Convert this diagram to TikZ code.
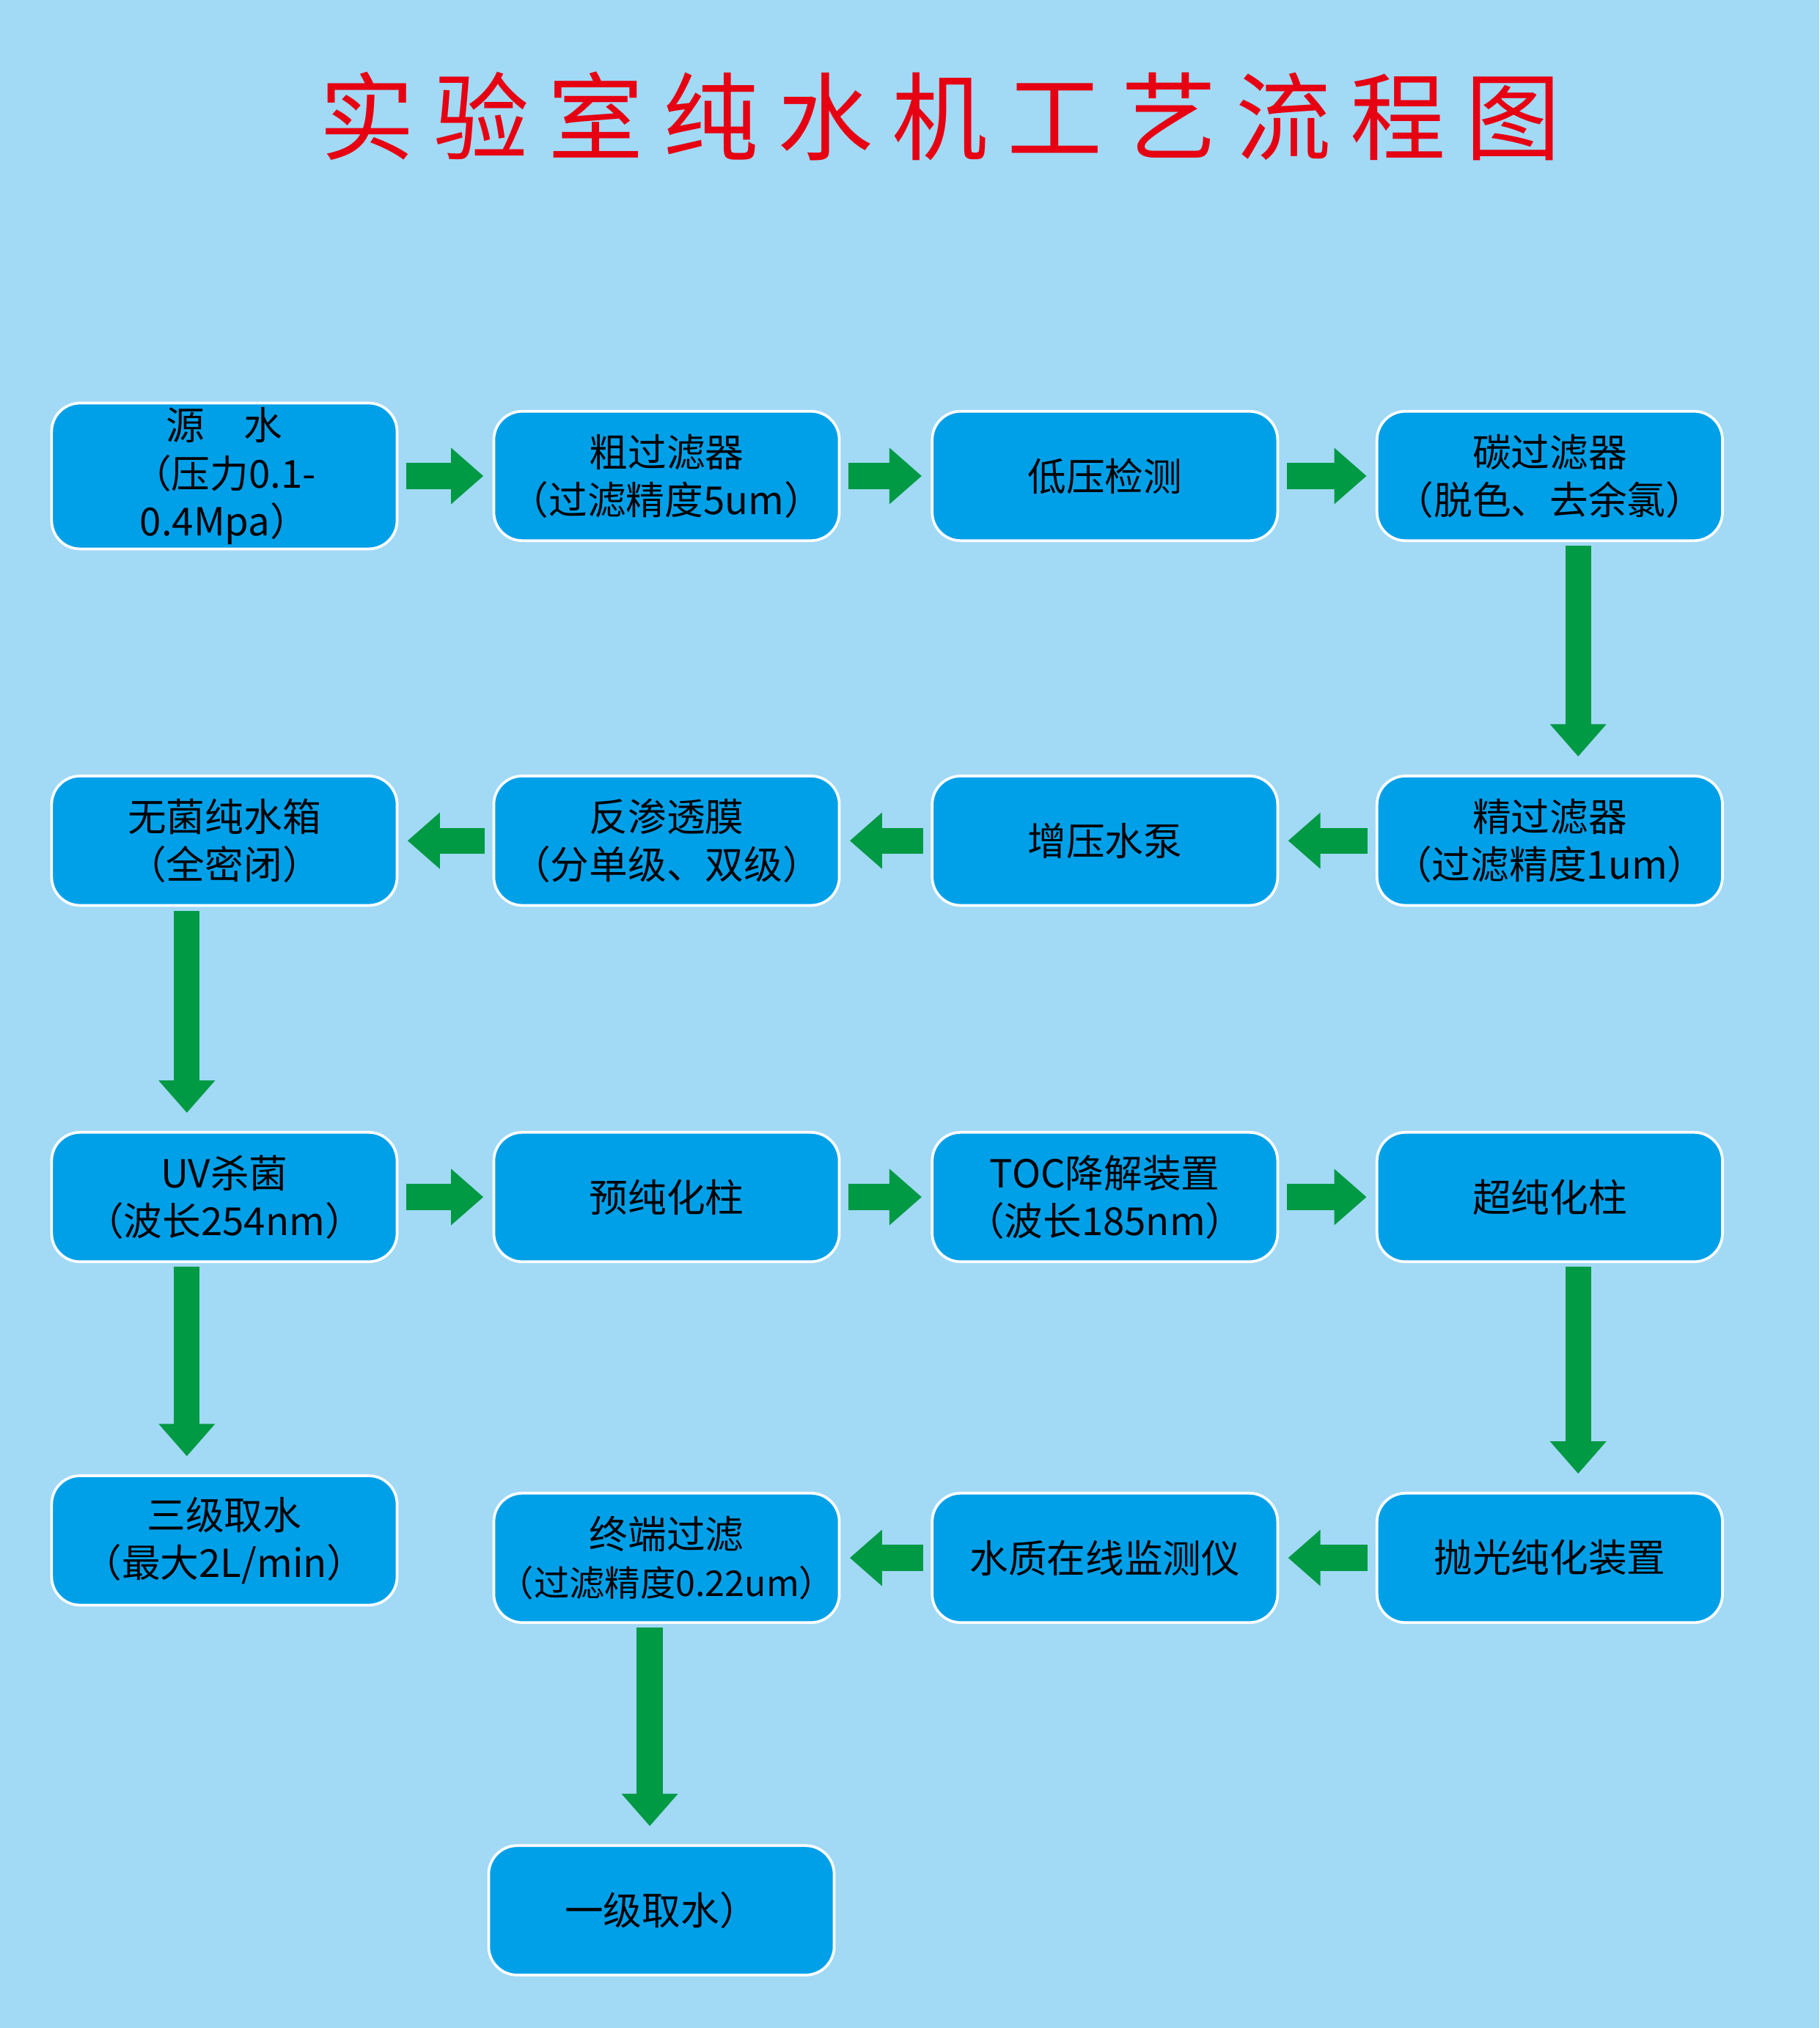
\documentclass[tikz,border=0pt]{standalone}
\usepackage{fontspec}
\setmainfont{Noto Sans CJK SC}
\usetikzlibrary{arrows.meta,calc}
\definecolor{bg}{RGB}{162,217,245}
\definecolor{boxc}{RGB}{0,160,233}
\definecolor{arr}{RGB}{0,153,68}
\definecolor{ttl}{RGB}{230,0,18}
\tikzset{
 box/.style={draw=white,line width=0.6pt,fill=boxc,rounded corners=0.22cm,minimum width=2.67cm,text width=2.6cm,minimum height=1.0cm,align=center,font=\fontsize{8.5}{10.5}\selectfont,inner sep=1pt},
 flow/.style={draw=arr,line width=0.2cm,-{Triangle[length=0.25cm,width=0.42cm]}}
}
\begin{document}
\begin{tikzpicture}[x=0.01cm,y=-0.01cm]
\fill[bg] (0,0) rectangle (1407,1568);
\useasboundingbox (0,0) rectangle (1407,1568);
\node[text=ttl,font=\fontsize{21}{24}\selectfont] (title) at (727,90) {实\hspace{0.2em}验\hspace{0.2em}室\hspace{0.2em}纯\hspace{0.2em}水\hspace{0.2em}机\hspace{0.2em}工\hspace{0.2em}艺\hspace{0.2em}流\hspace{0.2em}程\hspace{0.2em}图};
% row1
\node[box] (a1) at (173.5,368) {源\quad 水\\（压力0.1-0.4Mpa）};
\node[box] (a2) at (515.5,368) {粗过滤器\\（过滤精度5um）};
\node[box] (a3) at (854.5,368) {低压检测};
\node[box] (a4) at (1198.5,368) {碳过滤器\\（脱色、去余氯）};
% row2
\node[box] (b1) at (173.5,650) {无菌纯水箱\\（全密闭）};
\node[box] (b2) at (515.5,650) {反渗透膜\\（分单级、双级）};
\node[box] (b3) at (854.5,650) {增压水泵};
\node[box] (b4) at (1198.5,650) {精过滤器\\（过滤精度1um）};
% row3
\node[box] (c1) at (173.5,925.5) {UV杀菌\\（波长254nm）};
\node[box] (c2) at (515.5,925.5) {预纯化柱};
\node[box] (c3) at (854.5,925.5) {TOC降解装置\\（波长185nm）};
\node[box] (c4) at (1198.5,925.5) {超纯化柱};
% row4
\node[box] (d1) at (173.5,1191) {三级取水\\（最大2L/min）};
\node[box] (d2) at (515.5,1204.5) {终端过滤\\{\fontsize{7.8}{10}\selectfont（过滤精度0.22um）}};
\node[box] (d3) at (854.5,1204.5) {水质在线监测仪};
\node[box] (d4) at (1198.5,1204.5) {抛光纯化装置};
\node[box] (e2) at (511.5,1477) {一级取水）};
% arrows
\begin{scope}[shorten <=0.06cm,shorten >=0.07cm]
\draw[flow] (a1.east) -- (a2.west);
\draw[flow] (a2.east) -- (a3.west);
\draw[flow] (a3.east) -- (a4.west);
\draw[flow] (b4.west) -- (b3.east);
\draw[flow] (b3.west) -- (b2.east);
\draw[flow] (b2.west) -- (b1.east);
\draw[flow] (c1.east) -- (c2.west);
\draw[flow] (c2.east) -- (c3.west);
\draw[flow] (c3.east) -- (c4.west);
\draw[flow] (d4.west) -- (d3.east);
\draw[flow] (d3.west) -- (d2.east);
\end{scope}
\begin{scope}[shorten <=0.03cm,shorten >=0.14cm]
\draw[flow] ($(a4.south)+(22,0)$) -- ($(b4.north)+(22,0)$);
\draw[flow] ($(b1.south)+(-29,0)$) -- ($(c1.north)+(-29,0)$);
\draw[flow] ($(c1.south)+(-29,0)$) -- ($(d1.north)+(-29,0)$);
\draw[flow] ($(c4.south)+(22,0)$) -- ($(d4.north)+(22,0)$);
\draw[flow] ($(d2.south)+(-13,0)$) -- ($(e2.north)+(-9,0)$);
\end{scope}
\end{tikzpicture}
\end{document}
